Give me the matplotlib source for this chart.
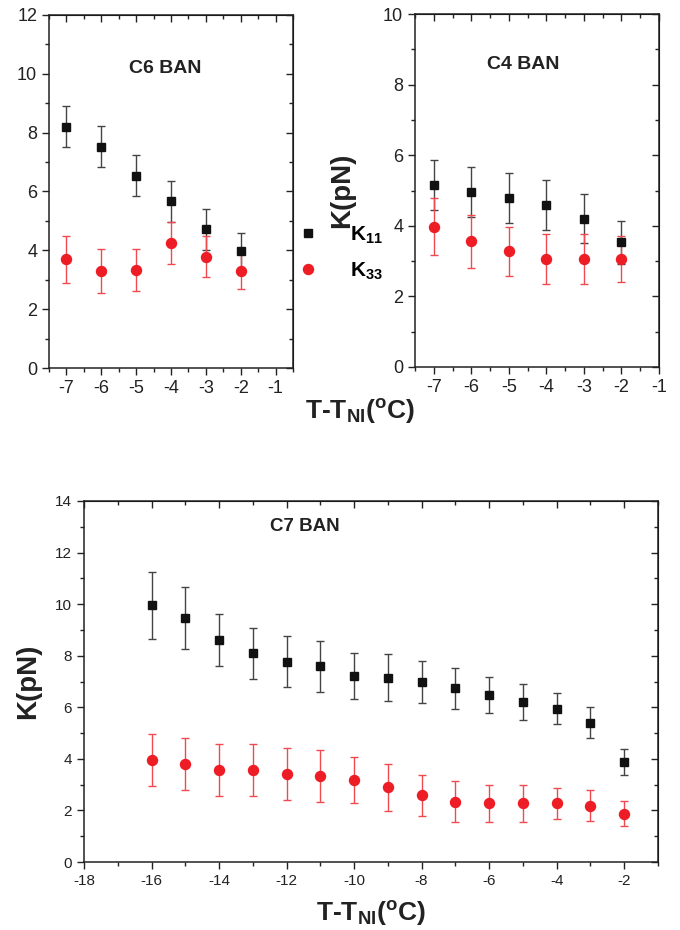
import matplotlib
matplotlib.use("Agg")
import matplotlib.pyplot as plt
from matplotlib.ticker import MultipleLocator
from matplotlib.lines import Line2D

plt.rcParams['font.family'] = ['Liberation Sans', 'DejaVu Sans']
plt.rcParams['mathtext.fontset'] = 'custom'
plt.rcParams['mathtext.rm'] = 'Liberation Sans:bold'
plt.rcParams['mathtext.bf'] = 'Liberation Sans:bold'
plt.rcParams['mathtext.it'] = 'Liberation Sans:bold'
plt.rcParams['axes.unicode_minus'] = False

# ---- data ----
c6_t = [-7, -6, -5, -4, -3, -2]
c6_k11 = [8.2, 7.52, 6.54, 5.66, 4.72, 3.98]
c6_k11_err = [0.7, 0.7, 0.7, 0.71, 0.7, 0.6]
c6_k33 = [3.7, 3.3, 3.33, 4.24, 3.79, 3.3]
c6_k33_err = [0.8, 0.75, 0.7, 0.72, 0.7, 0.63]

c4_t = [-7, -6, -5, -4, -3, -2]
c4_k11 = [5.16, 4.96, 4.79, 4.6, 4.2, 3.53]
c4_k11_err = [0.7, 0.71, 0.7, 0.71, 0.7, 0.6]
c4_k33 = [3.98, 3.56, 3.28, 3.06, 3.06, 3.06]
c4_k33_err = [0.8, 0.75, 0.7, 0.7, 0.7, 0.65]

c7_t = [-16, -15, -14, -13, -12, -11, -10, -9, -8, -7, -6, -5, -4, -3, -2]
c7_k11 = [9.95, 9.45, 8.6, 8.09, 7.77, 7.59, 7.22, 7.15, 6.98, 6.73, 6.47, 6.19, 5.94, 5.41, 3.88]
c7_k11_err = [1.3, 1.2, 1.0, 1.0, 1.0, 1.0, 0.9, 0.9, 0.8, 0.8, 0.7, 0.7, 0.6, 0.6, 0.5]
c7_k33 = [3.95, 3.79, 3.56, 3.57, 3.42, 3.33, 3.18, 2.89, 2.58, 2.34, 2.27, 2.27, 2.27, 2.19, 1.88]
c7_k33_err = [1.0, 1.0, 1.0, 1.0, 1.0, 1.0, 0.9, 0.9, 0.8, 0.8, 0.7, 0.7, 0.6, 0.6, 0.5]

BLACK = '#111111'
RED = '#ee1c25'
ERR_BLACK = '#444444'
ERR_RED = '#f04a50'

fig = plt.figure(figsize=(6.8, 9.3), dpi=100)


def style(ax, xlim, ylim, xmaj, xmin, ymaj, ymin, fs):
    ax.set_xlim(*xlim)
    ax.set_ylim(*ylim)
    ax.xaxis.set_major_locator(MultipleLocator(xmaj))
    ax.xaxis.set_minor_locator(MultipleLocator(xmin))
    ax.yaxis.set_major_locator(MultipleLocator(ymaj))
    ax.yaxis.set_minor_locator(MultipleLocator(ymin))
    ax.tick_params(which='both', direction='out', top=False, right=False,
                   labelsize=fs, labelcolor='#222222', width=1.0, color='#222222')
    ax.tick_params(which='major', length=5)
    ax.tick_params(which='minor', length=3)
    for s in ax.spines.values():
        s.set_linewidth(1.1)
        s.set_color('#222222')
    # mirrored inward ticks on top/right
    sx = ax.secondary_xaxis('top')
    sx.xaxis.set_major_locator(MultipleLocator(xmaj))
    sx.xaxis.set_minor_locator(MultipleLocator(xmin))
    sx.tick_params(which='both', direction='in', labeltop=False, color='#222222', width=1.0)
    sx.tick_params(which='major', length=5)
    sx.tick_params(which='minor', length=3)
    sy = ax.secondary_yaxis('right')
    sy.yaxis.set_major_locator(MultipleLocator(ymaj))
    sy.yaxis.set_minor_locator(MultipleLocator(ymin))
    sy.tick_params(which='both', direction='in', labelright=False, color='#222222', width=1.0)
    sy.tick_params(which='major', length=5)
    sy.tick_params(which='minor', length=3)


def draw(ax, t, k11, e11, k33, e33):
    ax.errorbar(t, k11, yerr=e11, fmt='none', ecolor=ERR_BLACK, elinewidth=1.0,
                capsize=3, capthick=1.0, zorder=2)
    ax.errorbar(t, k33, yerr=e33, fmt='none', ecolor=ERR_RED, elinewidth=1.0,
                capsize=3, capthick=1.0, zorder=2)
    ax.plot(t, k11, 's', color=BLACK, ms=6.3, ls='none', zorder=3)
    ax.plot(t, k33, 'o', color=RED, ms=7.2, ls='none', zorder=3)


# top-left: C6 BAN
ax1 = fig.add_axes([0.072, 0.6043, 0.359, 0.3796])
draw(ax1, c6_t, c6_k11, c6_k11_err, c6_k33, c6_k33_err)
style(ax1, (-7.5, -0.5), (0, 12), 1, 0.5, 2, 1, 13)
ax1.text(0.475, 0.847, 'C6 BAN', transform=ax1.transAxes, ha='center', va='center',
         fontsize=14, fontweight='bold', color='#222222')

# top-right: C4 BAN
ax2 = fig.add_axes([0.6103, 0.6054, 0.3588, 0.3795])
draw(ax2, c4_t, c4_k11, c4_k11_err, c4_k33, c4_k33_err)
style(ax2, (-7.5, -1), (0, 10), 1, 0.5, 2, 1, 13)
ax2.text(0.443, 0.858, 'C4 BAN', transform=ax2.transAxes, ha='center', va='center',
         fontsize=14, fontweight='bold', color='#222222')
ax2.set_ylabel('K(pN)', fontsize=20, fontweight='bold', labelpad=20, color='#222222')

# legend between the top panels
handles = [Line2D([], [], marker='s', color=BLACK, ls='none', ms=6.3),
           Line2D([], [], marker='o', color=RED, ls='none', ms=7.2)]
fig.legend(handles, ['K$_{11}$', 'K$_{33}$'], loc='center',
           bbox_to_anchor=(0.5, 0.728), frameon=False,
           handletextpad=1.5, labelspacing=0.7, handlelength=1.0,
           prop={'size': 15, 'weight': 'bold'})

# shared x label for top panels
fig.text(0.529, 0.557, 'T-T$_{NI}$($^{o}$C)', ha='center', va='center',
         fontsize=19, fontweight='bold', color='#222222')

# bottom: C7 BAN
ax3 = fig.add_axes([0.1235, 0.0731, 0.8441, 0.3882])
draw(ax3, c7_t, c7_k11, c7_k11_err, c7_k33, c7_k33_err)
style(ax3, (-18, -1), (0, 14), 2, 1, 2, 1, 11)
ax3.text(0.385, 0.93, 'C7 BAN', transform=ax3.transAxes, ha='center', va='center',
         fontsize=13.5, fontweight='bold', color='#222222')
ax3.set_ylabel('K(pN)', fontsize=20, fontweight='bold', labelpad=10, color='#222222')
ax3.set_xlabel('T-T$_{NI}$($^{o}$C)', fontsize=19, fontweight='bold', labelpad=8,
               color='#222222')

fig.savefig('out.png', dpi=100)
